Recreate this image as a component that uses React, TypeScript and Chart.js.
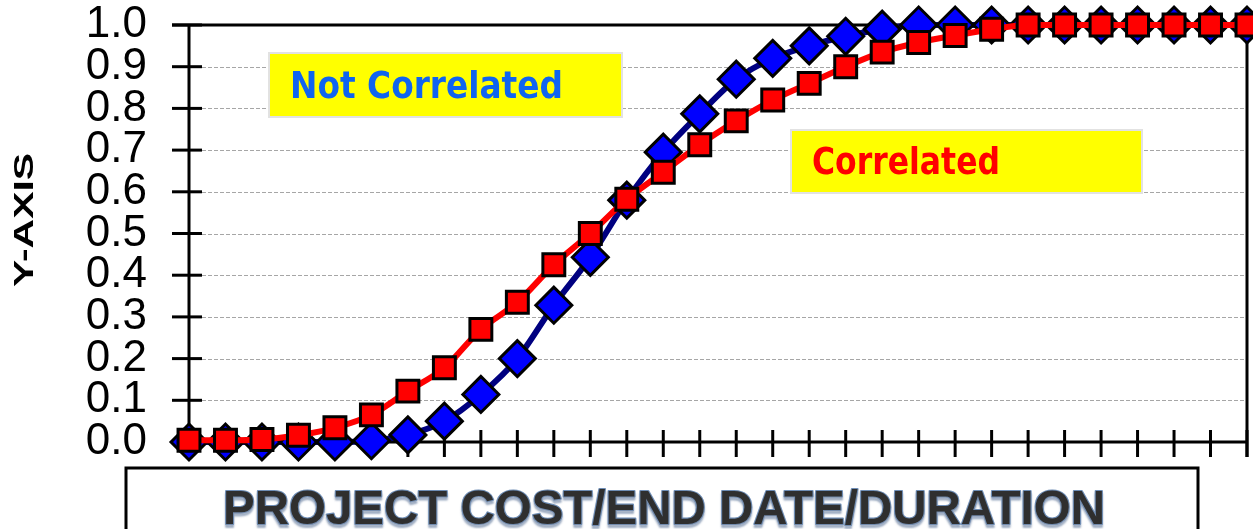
import React, { useEffect, useRef } from "react";
import { Chart, registerables } from "chart.js";

Chart.register(...registerables);

const CATEGORIES = [
  "1", "2", "3", "4", "5", "6", "7", "8", "9", "10",
  "11", "12", "13", "14", "15", "16", "17", "18", "19", "20",
  "21", "22", "23", "24", "25", "26", "27", "28", "29", "30",
];

const CORRELATED = [
  0.004, 0.004, 0.006, 0.016, 0.034, 0.065, 0.122, 0.178, 0.27, 0.335,
  0.425, 0.5, 0.582, 0.647, 0.713, 0.77, 0.82, 0.86, 0.9, 0.935,
  0.958, 0.975, 0.99, 1.0, 1.0, 1.0, 1.0, 1.0, 1.0, 1.0,
];

const NOT_CORRELATED = [
  0, 0, 0, 0, 0, 0.003, 0.017, 0.05, 0.114, 0.2,
  0.328, 0.443, 0.58, 0.695, 0.787, 0.87, 0.92, 0.95, 0.973, 0.99,
  1.0, 1.0, 1.0, 1.0, 1.0, 1.0, 1.0, 1.0, 1.0, 1.0,
];

const Y_TICKS = [0, 0.1, 0.2, 0.3, 0.4, 0.5, 0.6, 0.7, 0.8, 0.9, 1.0];
const Y_TICK_LABELS = ["0.0", "0.1", "0.2", "0.3", "0.4", "0.5", "0.6", "0.7", "0.8", "0.9", "1.0"];

const X_TITLE = "PROJECT COST/END DATE/DURATION";
const Y_TITLE = "Y-Axis".toUpperCase();
const NOTE_NOT_CORRELATED = "Not Correlated";
const NOTE_CORRELATED = "Correlated";

function drawFitted(
  ctx: CanvasRenderingContext2D,
  text: string,
  left: number,
  baseline: number,
  width: number,
  capH: number,
  font: string,
  weight: string,
  color: string,
  rotate = 0,
  stroke?: string,
) {
  ctx.save();
  const size = capH / 0.72;
  ctx.font = `${weight} ${size}px ${font}`;
  const sx = width / ctx.measureText(text).width;
  ctx.translate(left, baseline);
  if (rotate) ctx.rotate(rotate);
  ctx.scale(sx, 1);
  ctx.textAlign = "left";
  ctx.textBaseline = "alphabetic";
  if (stroke) {
    ctx.strokeStyle = stroke;
    ctx.lineWidth = 2.2;
    ctx.lineJoin = "round";
    ctx.strokeText(text, 0, 0);
  }
  ctx.fillStyle = color;
  ctx.fillText(text, 0, 0);
  ctx.restore();
}

function line(ctx: CanvasRenderingContext2D, x1: number, y1: number, x2: number, y2: number) {
  ctx.beginPath();
  ctx.moveTo(x1, y1);
  ctx.lineTo(x2, y2);
  ctx.stroke();
}

const NOTE_FONT = "'Comic Sans MS', 'DejaVu Sans', sans-serif";
const AXIS_FONT = "'Liberation Sans', Arial, sans-serif";

const decorPlugin = {
  id: "decor",
  beforeDatasetsDraw(chart: any) {
    const { ctx, chartArea: a, scales } = chart;
    const ys = scales.y;
    const xs = scales.x;
    ctx.save();

    // dashed grid
    ctx.strokeStyle = "#a6a6a6";
    ctx.lineWidth = 1;
    ctx.setLineDash([4, 2]);
    Y_TICKS.forEach((v) => {
      if (v <= 0 || v >= 1) return;
      const py = Math.round(ys.getPixelForValue(v)) + 0.5;
      line(ctx, a.left + 13, py, a.right, py);
    });
    ctx.setLineDash([]);

    // note boxes
    const boxes = [
      { x1: 269, y1: 53, x2: 622, y2: 117, text: NOTE_NOT_CORRELATED, color: "#1064f0", tl: 290, tb: 98, tw: 273 },
      { x1: 791, y1: 130, x2: 1142, y2: 193, text: NOTE_CORRELATED, color: "#ff0000", tl: 812, tb: 174, tw: 188 },
    ];
    boxes.forEach((b) => {
      ctx.fillStyle = "#ffff00";
      ctx.fillRect(b.x1, b.y1, b.x2 - b.x1, b.y2 - b.y1);
      ctx.strokeStyle = "#e2e2e2";
      ctx.lineWidth = 2;
      ctx.strokeRect(b.x1, b.y1, b.x2 - b.x1, b.y2 - b.y1);
      drawFitted(ctx, b.text, b.tl, b.tb, b.tw, 27, NOTE_FONT, "bold", b.color);
    });

    // axes & border
    ctx.strokeStyle = "#000";
    ctx.lineWidth = 3;
    ctx.lineCap = "butt";
    line(ctx, a.left, a.top, a.left, a.bottom);
    line(ctx, a.left, a.bottom, a.right, a.bottom);
    line(ctx, a.left - 17, a.top, a.right, a.top);
    line(ctx, a.right, a.top - 1.5, a.right, a.bottom + 15);

    // y tick marks (crossing)
    Y_TICKS.forEach((v) => {
      const py = ys.getPixelForValue(v);
      line(ctx, a.left - 17, py, a.left + 13, py);
    });
    // x tick marks (crossing)
    CATEGORIES.forEach((_, i) => {
      const px = xs.getPixelForValue(i);
      line(ctx, px, a.bottom - 12, px, a.bottom + 15);
    });
    ctx.restore();
  },
  afterDraw(chart: any) {
    const { ctx } = chart;
    ctx.save();
    // bottom title box
    ctx.strokeStyle = "#000";
    ctx.lineWidth = 3;
    ctx.beginPath();
    ctx.moveTo(126, 560);
    ctx.lineTo(126, 468);
    ctx.lineTo(1198, 468);
    ctx.lineTo(1198, 560);
    ctx.stroke();
    ctx.shadowColor = "rgba(120,140,170,0.6)";
    ctx.shadowBlur = 2;
    ctx.shadowOffsetY = 3;
    drawFitted(ctx, X_TITLE, 223, 524, 882, 34, AXIS_FONT, "bold", "#2f2f2f", 0, "#6e8db5");
    ctx.restore();

    // y-axis title (rotated)
    ctx.save();
    drawFitted(ctx, Y_TITLE, 33, 287, 134, 20, AXIS_FONT, "bold", "#000", -Math.PI / 2);
    ctx.restore();
  },
};

export default function App() {
  const ref = useRef<HTMLCanvasElement | null>(null);

  useEffect(() => {
    if (!ref.current) return;
    const chart = new Chart(ref.current, {
      type: "line",
      data: {
        labels: CATEGORIES,
        datasets: [
          {
            label: NOTE_CORRELATED,
            data: CORRELATED,
            borderColor: "#ff0000",
            backgroundColor: "#ff0000",
            borderWidth: 6,
            pointStyle: "rect",
            pointRadius: 15.5,
            pointHoverRadius: 15.5,
            pointBackgroundColor: "#ff0000",
            pointBorderColor: "#000000",
            pointBorderWidth: 3,
            cubicInterpolationMode: "monotone",
            clip: false,
            order: 1,
          },
          {
            label: NOTE_NOT_CORRELATED,
            data: NOT_CORRELATED,
            borderColor: "#000080",
            backgroundColor: "#0000ff",
            borderWidth: 6,
            pointStyle: "rectRot",
            pointRadius: 18,
            pointHoverRadius: 18,
            pointBackgroundColor: "#0000ff",
            pointBorderColor: "#000000",
            pointBorderWidth: 3,
            cubicInterpolationMode: "monotone",
            clip: false,
            order: 2,
          },
        ],
      },
      options: {
        animation: false,
        responsive: false,
        devicePixelRatio: 1,
        events: [],
        layout: { autoPadding: false, padding: { top: 25, right: 6, left: 0, bottom: 0 } },
        plugins: {
          legend: { display: false },
          tooltip: { enabled: false },
          title: { display: false },
        },
        scales: {
          x: {
            type: "category",
            offset: false,
            grid: { display: false },
            border: { display: false },
            ticks: { display: false },
            afterFit: (s: any) => {
              s.height = 87;
              s.paddingLeft = 0;
              s.paddingRight = 0;
              s.paddingTop = 0;
              s.paddingBottom = 0;
            },
          },
          y: {
            min: 0,
            max: 1,
            grid: { display: false, drawTicks: false },
            border: { display: false },
            afterBuildTicks: (s: any) => {
              s.ticks = Y_TICKS.map((v) => ({ value: v }));
            },
            ticks: {
              autoSkip: false,
              padding: 42,
              color: "#000",
              font: { family: AXIS_FONT, size: 44, lineHeight: 1 },
              callback: (_v: any, i: number) => Y_TICK_LABELS[i],
            },
            afterFit: (s: any) => {
              s.width = 189;
              s.paddingTop = 0;
              s.paddingBottom = 0;
              s.paddingLeft = 0;
              s.paddingRight = 0;
            },
          },
        },
      },
      plugins: [decorPlugin],
    });
    return () => chart.destroy();
  }, []);

  return (
    <div style={{ position: "fixed", left: 0, top: 0, width: 1253, height: 529, background: "#fff" }}>
      <canvas ref={ref} width={1253} height={529} style={{ display: "block" }} />
    </div>
  );
}
